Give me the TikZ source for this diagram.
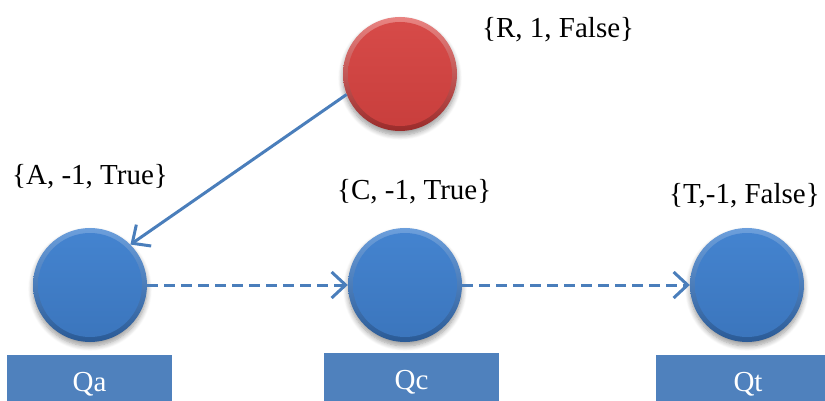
\documentclass[tikz,border=0pt]{standalone}
\usepackage{fontspec}
\setmainfont{Liberation Serif}
\usetikzlibrary{arrows.meta,shadows.blur}
\definecolor{boxblue}{HTML}{4F81BD}
\definecolor{linkblue}{HTML}{4A7EBB}
\definecolor{bluerimtop}{HTML}{6C9FDC}
\definecolor{bluerimbot}{HTML}{2A5A96}
\definecolor{blueintop}{HTML}{4484D0}
\definecolor{blueinbot}{HTML}{3B75BC}
\definecolor{redrimtop}{HTML}{E98482}
\definecolor{redrimbot}{HTML}{9A2B2A}
\definecolor{redintop}{HTML}{D74B49}
\definecolor{redinbot}{HTML}{C83E3C}
\tikzset{
  ball/.style={circle, minimum size=114pt, inner sep=0pt,
    blur shadow={shadow xshift=0pt, shadow yshift=-4pt, shadow blur radius=5pt, shadow blur steps=8, shadow opacity=40}},
  blueball/.style={ball, top color=bluerimtop, bottom color=bluerimbot,
    path picture={\shade[top color=blueintop, bottom color=blueinbot] (path picture bounding box.center) circle[radius=52pt];}},
  redball/.style={ball, top color=redrimtop, bottom color=redrimbot,
    path picture={\shade[top color=redintop, bottom color=redinbot] (path picture bounding box.center) circle[radius=52pt];}},
  tuple/.style={anchor=west, inner sep=0pt, font=\fontsize{29}{31}\selectfont},
  qbox/.style={fill=boxblue, text=white, minimum height=58pt, inner sep=0pt, font=\fontsize{29}{31}\selectfont},
  link/.style={draw=linkblue, line width=3pt, -{Straight Barb[length=14pt,width=26pt,line width=3pt]}},
  dlink/.style={link, dash pattern=on 11pt off 6pt}
}
\begin{document}
\begin{tikzpicture}[x=1pt,y=-1pt]
\useasboundingbox (0,0) rectangle (825,401);
\clip (0,0) rectangle (825,401);
% circles
\node[redball] (r) at (400,74) {};
\node[blueball] (qa) at (90,285) {};
\node[blueball] (qc) at (405,285) {};
\node[blueball] (qt) at (747,285) {};
% labels
\node[tuple] (lr) at (482,30) {\{R, 1, False\}};
\node[tuple] (la) at (12,177) {\{A, -1, True\}};
\node[tuple] (lc) at (337,192) {\{C, -1, True\}};
\node[tuple] (lt) at (669,196) {\{T,-1, False\}};
% boxes
\node[qbox, minimum width=165pt] (ba) at (89.5,384) {Qa};
\node[qbox, minimum width=175pt] (bc) at (411.5,382) {Qc};
\node[qbox, minimum width=184pt] (bt) at (748,384) {Qt};
% connectors
\draw[link] (r.201) -- (qa.45);
\draw[dlink] (qa.east) -- (qc.west);
\draw[dlink] (qc.east) -- (qt.west);
\end{tikzpicture}
\end{document}
